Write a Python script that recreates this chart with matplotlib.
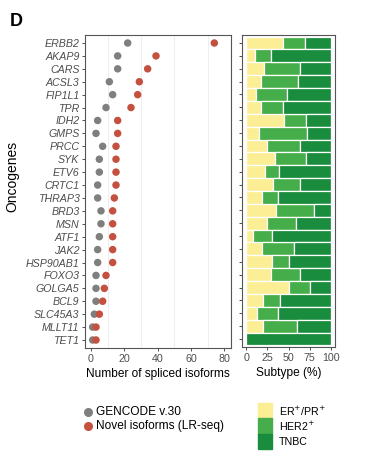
import numpy as np
import matplotlib
matplotlib.use("Agg")
import matplotlib.pyplot as plt
from matplotlib.patches import Rectangle

plt.rcParams['font.family'] = ['Liberation Sans', 'DejaVu Sans']

# oncogenes, top to bottom
genes = ["ERBB2", "AKAP9", "CARS", "ACSL3", "FIP1L1", "TPR", "IDH2", "GMPS",
         "PRCC", "SYK", "ETV6", "CRTC1", "THRAP3", "BRD3", "MSN", "ATF1",
         "JAK2", "HSP90AB1", "FOXO3", "GOLGA5", "BCL9", "SLC45A3", "MLLT11", "TET1"]

# number of spliced isoforms
gencode = [22, 16, 16, 11, 13, 9, 4, 3, 7, 5, 5, 4, 4, 6, 6, 5, 4, 4, 3, 3, 3, 2, 1, 1]
novel = [74, 39, 34, 29, 28, 24, 16, 16, 15, 15, 15, 15, 14, 13, 13, 13, 13, 13, 9, 8, 7, 5, 3, 3]

# subtype percentages
er_pr = [44, 10, 21, 17, 12, 18, 45, 15, 25, 34, 22, 32, 19, 35, 24, 8, 19, 30, 29, 50, 20, 13, 20, 0]
her2 = [25, 19, 42, 44, 36, 26, 26, 57, 38, 37, 17, 32, 19, 45, 35, 23, 38, 20, 35, 25, 20, 24, 40, 0]
tnbc = [31, 71, 37, 39, 52, 56, 29, 28, 37, 29, 61, 36, 62, 20, 41, 69, 43, 50, 36, 25, 60, 63, 40, 100]

c_gray = "#7f7f7f"
c_red = "#c4513f"
c_yel = "#fcee94"
c_mid = "#45ad4a"
c_dark = "#1a8c3d"
tick_col = "#4d4d4d"

fig = plt.figure(figsize=(3.85, 4.65), dpi=100)
W, H = 385, 465

# axes box from pixel coords (x0, y0 top-left, x1, y1 bottom-right)
def box(x0, y0, x1, y1):
    return [x0 / W, 1 - y1 / H, (x1 - x0) / W, (y1 - y0) / H]

ax1 = fig.add_axes(box(85, 35, 231, 348))
ax2 = fig.add_axes(box(242.3, 35, 335, 347))

y = np.arange(len(genes))

# left panel: dot plot
for g in [10, 30, 50, 70]:
    ax1.axvline(g, color="#ebebeb", lw=0.6, zorder=0)
ax1.scatter(gencode, y, s=29, color=c_gray, edgecolor="none", zorder=3)
ax1.scatter(novel, y, s=29, color=c_red, edgecolor="none", zorder=4)
ax1.set_xlim(-3.6, 84)
ax1.set_ylim(len(genes) - 0.38, -0.62)
ax1.set_yticks(y)
ax1.set_yticklabels(genes, fontsize=7.7, style="italic", color=tick_col)
ax1.set_xticks([0, 20, 40, 60, 80])
ax1.set_xticklabels(["0", "20", "40", "60", "80"], fontsize=7.7, color=tick_col)
ax1.set_xlabel("Number of spliced isoforms", fontsize=8.6, labelpad=3)

# right panel: stacked bars
er_pr = np.array(er_pr)
her2 = np.array(her2)
tnbc = np.array(tnbc)
kw = dict(height=1.0, edgecolor="white", linewidth=0.9)
ax2.barh(y, er_pr, color=c_yel, **kw)
ax2.barh(y, her2, left=er_pr, color=c_mid, **kw)
ax2.barh(y, tnbc, left=er_pr + her2, color=c_dark, **kw)
ax2.set_xlim(-4.7, 105)
ax2.set_ylim(len(genes) - 0.38, -0.62)
ax2.set_yticks(y)
ax2.set_yticklabels([])
ax2.set_xticks([0, 25, 50, 75, 100])
ax2.set_xticklabels(["0", "25", "50", "75", "100"], fontsize=7.7, color=tick_col)
ax2.set_xlabel("Subtype (%)", fontsize=8.6, labelpad=3)

for ax in (ax1, ax2):
    for sp in ax.spines.values():
        sp.set_color("#555555")
        sp.set_linewidth(0.8)
    ax.tick_params(length=2.5, width=0.6, color="#333333", pad=1.5)

fig.text(12 / W, 1 - 176 / H, "Oncogenes", rotation=90, fontsize=10,
         ha="center", va="center")
fig.text(10 / W, 1 - 22 / H, "D", fontsize=13, fontweight="bold",
         ha="left", va="center")

# legends
fig.lines.append(plt.Line2D([88 / W], [1 - 412 / H], marker="o", ms=5.5, color=c_gray,
                            ls="none", transform=fig.transFigure))
fig.lines.append(plt.Line2D([88 / W], [1 - 426 / H], marker="o", ms=5.5, color=c_red,
                            ls="none", transform=fig.transFigure))
fig.text(96 / W, 1 - 412 / H, "GENCODE v.30", fontsize=8.6, va="center")
fig.text(96 / W, 1 - 426 / H, "Novel isoforms (LR-seq)", fontsize=8.6, va="center")

sub_cols = [c_yel, c_mid, c_dark]
sub_labels = [r"ER$^{+}$/PR$^{+}$", r"HER2$^{+}$", "TNBC"]
for i, (c, lab) in enumerate(zip(sub_cols, sub_labels)):
    y0 = 403 + i * 15.3
    fig.patches.append(Rectangle((258 / W, 1 - (y0 + 15.3) / H), 14 / W, 15.3 / H,
                                 color=c, transform=fig.transFigure))
    fig.text(279 / W, 1 - (y0 + 8) / H, lab, fontsize=7.7, va="center")

fig.savefig("out.png", dpi=100)
